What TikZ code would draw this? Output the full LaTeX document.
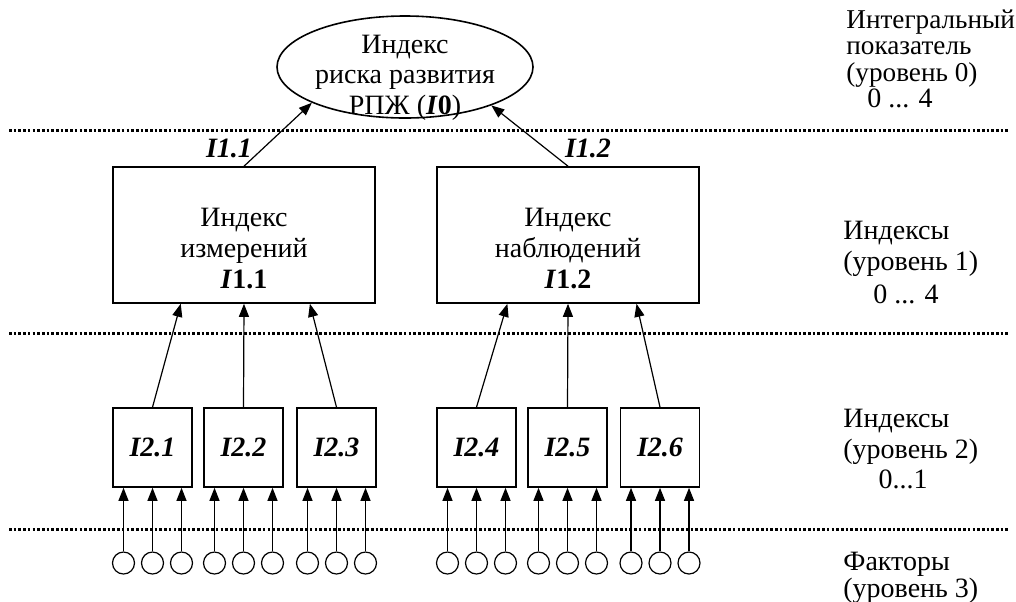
\documentclass[tikz,border=0pt]{standalone}
\usepackage{fontspec}
\setmainfont{Liberation Serif}
\usetikzlibrary{shapes.geometric,arrows.meta,calc}
\begin{document}
\begin{tikzpicture}[x=0.5pt,y=-0.5pt,
  every node/.style={font=\fontsize{14}{15.2}\selectfont, inner sep=0pt},
  bigbox/.style={draw, line width=0.8pt, minimum width=131pt, minimum height=68pt},
  smallbox/.style={draw, line width=0.8pt, minimum width=39.5pt, minimum height=39.5pt, font=\fontsize{14}{14}\selectfont\bfseries\itshape},
  factor/.style={draw, circle, line width=0.6pt, minimum size=11pt},
  arr/.style={-{Triangle[length=6.5pt,width=5pt]}, line width=0.6pt},
  levelline/.style={line width=1.5pt, dash pattern=on 1.3pt off 1.05pt},
  sidetext/.style={anchor=base west, align=left},
  sidenum/.style={anchor=base},
  lbl/.style={font=\fontsize{14}{14}\selectfont\bfseries\itshape}
]
\useasboundingbox (0,0) rectangle (1016,601);

% level separators
\draw[levelline] (9,130) -- (1010,130);
\draw[levelline] (9,333) -- (1010,333);
\draw[levelline] (9,529) -- (1010,529);

% top ellipse
\node[draw, ellipse, line width=0.8pt, minimum width=128pt, minimum height=51pt] (top) at (405,67) {};
\node[align=center, anchor=base, font=\fontsize{14}{15.25}\selectfont] (toptext) at (405,114) {Индекс\\риска развития\\РПЖ (\textbf{\textit{I}0})};

% level 1 boxes
\node[bigbox] (b11) at (244,235) {};
\node[align=center, anchor=base, font=\fontsize{14}{15.5}\selectfont] (t11) at (244,288) {Индекс\\измерений\\\textbf{\textit{I}1.1}};
\node[bigbox] (b12) at (568,235) {};
\node[align=center, anchor=base, font=\fontsize{14}{15.5}\selectfont] (t12) at (568,288) {Индекс\\наблюдений\\\textbf{\textit{I}1.2}};

\draw[arr] (b11.north) -- (top.201);
\draw[arr] (b12.north) -- (top.336);
\node[lbl] (l11) at (229,148) {I1.1};
\node[lbl] (l12) at (588,148) {I1.2};

% level 2 boxes
\node[smallbox] (b21) at (152.5,447.5) {I2.1};
\node[smallbox] (b22) at (243.5,447.5) {I2.2};
\node[smallbox] (b23) at (336.5,447.5) {I2.3};
\node[smallbox] (b24) at (476.5,447.5) {I2.4};
\node[smallbox] (b25) at (567.5,447.5) {I2.5};
\node[smallbox] (b26) at (660,447.5) {I2.6};

\draw[arr] (b21.north) -- ($(b11.south west)!0.26!(b11.south east)$);
\draw[arr] (b22.north) -- (b11.south);
\draw[arr] (b23.north) -- ($(b11.south west)!0.75!(b11.south east)$);
\draw[arr] (b24.north) -- ($(b12.south west)!0.27!(b12.south east)$);
\draw[arr] (b25.north) -- (b12.south);
\draw[arr] (b26.north) -- ($(b12.south west)!0.76!(b12.south east)$);

% factors
\foreach \b/\c in {1/152.5,2/243.5,3/336.5,4/476.5,5/567.5,6/660}{
  \foreach \k/\d in {1/-29,2/0,3/29}{
    \node[factor] (f\b\k) at (\c+\d,563) {};
    \draw[arr] (f\b\k.north) -- (f\b\k.north |- b2\b.south);
  }
}

% side labels
\node[sidetext, font=\fontsize{13.6}{13.2}\selectfont] (s0) at (846,81) {Интегральный\\показатель\\(уровень 0)};
\node[sidenum] (n0) at (900,107) {0 ... 4};
\node[sidetext, font=\fontsize{14}{15.5}\selectfont] (s1) at (843,270) {Индексы\\(уровень 1)};
\node[sidenum] (n1) at (906,303) {0 ... 4};
\node[sidetext, font=\fontsize{14}{15.25}\selectfont] (s2) at (843,458) {Индексы\\(уровень 2)};
\node[sidenum] (n2) at (903,488) {0...1};
\node[sidetext, font=\fontsize{14}{13.5}\selectfont] (s3) at (843,597) {Факторы\\(уровень 3)};
\end{tikzpicture}
\end{document}
